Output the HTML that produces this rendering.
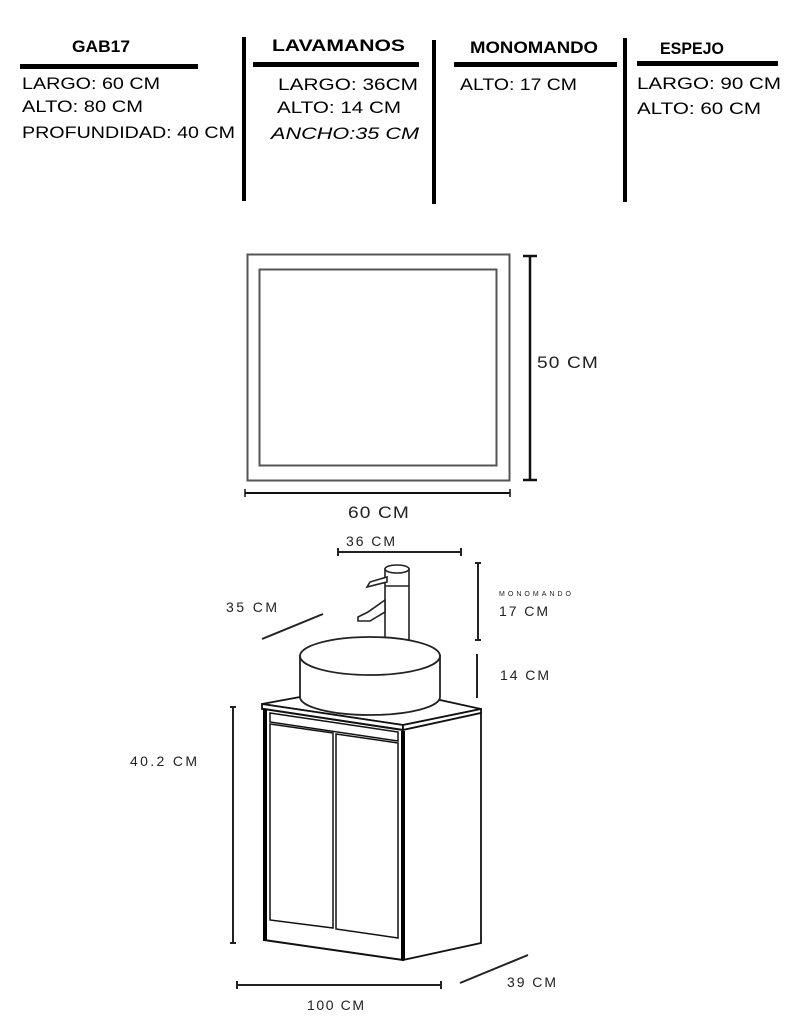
<!DOCTYPE html>
<html><head><meta charset="utf-8"><style>
html,body{margin:0;padding:0;background:#fff;}
svg{display:block;}
.h{font-family:"Liberation Sans",sans-serif;font-weight:bold;font-size:17px;fill:#000;}
.t{font-family:"Liberation Sans",sans-serif;font-size:17px;fill:#000;}
.d{font-family:"Liberation Sans",sans-serif;font-size:14px;fill:#222;letter-spacing:1px;}
</style></head><body>
<svg width="800" height="1034" viewBox="0 0 800 1034" xmlns="http://www.w3.org/2000/svg">
<rect width="800" height="1034" fill="#fff"/>
<!-- header -->
<text class="h" x="72" y="52" textLength="58" lengthAdjust="spacingAndGlyphs">GAB17</text>
<rect x="20" y="64" width="178" height="5"/>
<text class="t" x="22" y="89" textLength="138" lengthAdjust="spacingAndGlyphs">LARGO: 60 CM</text>
<text class="t" x="22" y="112" textLength="121" lengthAdjust="spacingAndGlyphs">ALTO: 80 CM</text>
<text class="t" x="22" y="138" textLength="213" lengthAdjust="spacingAndGlyphs">PROFUNDIDAD: 40 CM</text>
<rect x="242" y="37" width="4" height="164"/>
<text class="h" x="272" y="51" textLength="133" lengthAdjust="spacingAndGlyphs">LAVAMANOS</text>
<rect x="253" y="62" width="166" height="5"/>
<text class="t" x="278" y="90" textLength="140" lengthAdjust="spacingAndGlyphs">LARGO:  36CM</text>
<text class="t" x="277" y="113" textLength="124" lengthAdjust="spacingAndGlyphs">ALTO: 14 CM</text>
<text class="t" x="271" y="139" textLength="148" lengthAdjust="spacingAndGlyphs" font-style="italic">ANCHO:35 CM</text>
<rect x="432" y="40" width="4" height="164"/>
<text class="h" x="470" y="53" textLength="128" lengthAdjust="spacingAndGlyphs">MONOMANDO</text>
<rect x="454" y="62" width="163" height="5"/>
<text class="t" x="460" y="90" textLength="117" lengthAdjust="spacingAndGlyphs">ALTO: 17 CM</text>
<rect x="623" y="38" width="4" height="164"/>
<text class="h" x="660" y="54" textLength="64" lengthAdjust="spacingAndGlyphs">ESPEJO</text>
<rect x="637" y="61" width="141" height="5"/>
<text class="t" x="637" y="89" textLength="144" lengthAdjust="spacingAndGlyphs">LARGO: 90 CM</text>
<text class="t" x="637" y="114" textLength="124" lengthAdjust="spacingAndGlyphs">ALTO: 60 CM</text>
<!-- mirror -->
<rect x="247.5" y="254.5" width="262" height="226" fill="none" stroke="#555" stroke-width="2"/>
<rect x="259.5" y="269.5" width="237" height="196" fill="none" stroke="#555" stroke-width="2"/>
<g stroke="#111" stroke-width="2.5">
<line x1="530" y1="256" x2="530" y2="480"/><line x1="523" y1="256" x2="537" y2="256"/><line x1="523" y1="480" x2="537" y2="480"/>
<line x1="245" y1="493" x2="510" y2="493" stroke-width="2"/><line x1="245" y1="489" x2="245" y2="497" stroke-width="1.5"/><line x1="510" y1="489" x2="510" y2="497" stroke-width="1.5"/>
</g>
<text class="d" x="537" y="368" style="font-size:17px" textLength="62" lengthAdjust="spacingAndGlyphs">50 CM</text>
<text class="d" x="348" y="518" style="font-size:17px" textLength="62" lengthAdjust="spacingAndGlyphs">60 CM</text>
<!-- vanity dims -->
<g stroke="#222" stroke-width="2" fill="none">
<line x1="338" y1="552" x2="461" y2="552"/><line x1="338" y1="548" x2="338" y2="556"/><line x1="461" y1="548" x2="461" y2="556"/>
<line x1="478" y1="563" x2="478" y2="640"/><line x1="475" y1="563" x2="481" y2="563"/><line x1="475" y1="640" x2="481" y2="640"/>
<line x1="477" y1="654" x2="477" y2="698"/>
<line x1="262" y1="639" x2="323" y2="614"/>
<line x1="233" y1="707" x2="233" y2="943"/><line x1="230" y1="707" x2="236" y2="707"/><line x1="230" y1="943" x2="236" y2="943"/>
<line x1="237" y1="985" x2="441" y2="985"/><line x1="237" y1="981" x2="237" y2="989"/><line x1="441" y1="981" x2="441" y2="989"/>
<line x1="460" y1="983" x2="528" y2="955"/>
</g>
<text class="d" x="346" y="546" style="font-size:14px" textLength="50">36 CM</text>
<text class="d" x="226" y="612" style="font-size:14px" textLength="52">35 CM</text>
<text class="d" x="499" y="596" style="font-size:7px;letter-spacing:0" textLength="72">MONOMANDO</text>
<text class="d" x="499" y="616" style="font-size:14px" textLength="50">17 CM</text>
<text class="d" x="500" y="680" style="font-size:14px" textLength="50">14 CM</text>
<text class="d" x="130" y="766" style="font-size:14px" textLength="68">40.2 CM</text>
<text class="d" x="307" y="1010" style="font-size:14px" textLength="58">100 CM</text>
<text class="d" x="507" y="987" style="font-size:14px" textLength="50">39 CM</text>
<!-- cabinet -->
<g stroke="#111" fill="#fff" stroke-width="1.8">
<path d="M262 704 L300 697 L440 700 L481 709 L403 725 Z" fill="#fff"/>
<path d="M262 704 L403 725 L403 730 L262 709 Z"/>
<path d="M403 725 L481 709 L481 713 L403 730 Z"/>
<path d="M403 730 L481 713 L481 943 L403 960 Z"/>
<path d="M264 709 L403 730 L403 960 L264 940 Z" stroke-width="2"/>
<path d="M270 713 L398 732 L398 741 L270 722 Z" stroke-width="1.5"/>
<path d="M270 724 L333 733 L333 928 L270 920 Z" stroke-width="1.5"/>
<path d="M336 734 L398 743 L398 938 L336 929 Z" stroke-width="1.5"/>
</g>
<g stroke="#000" stroke-width="4"><line x1="265" y1="709" x2="265" y2="940"/><line x1="403" y1="731" x2="403" y2="960"/></g>
<!-- faucet -->
<g stroke="#222" stroke-width="1.6" fill="#fff">
<path d="M385 569 L385 640 L409 640 L409 569 Z"/>
<ellipse cx="397" cy="569" rx="12" ry="4"/>
<path d="M387 577 L370 582 L367 587 L387 582 Z"/>
<path d="M385 600 L368 612 L358 617 L358 621 L370 621 L385 612 Z"/>
<line x1="385" y1="586" x2="409" y2="586"/>
</g>
<!-- basin -->
<g stroke="#222" stroke-width="1.8" fill="#fff">
<path d="M300 656 L300 697 A70 18 0 0 0 440 697 L440 656 Z"/>
<ellipse cx="370" cy="656" rx="70" ry="19"/>
</g>
</svg>
</body></html>
